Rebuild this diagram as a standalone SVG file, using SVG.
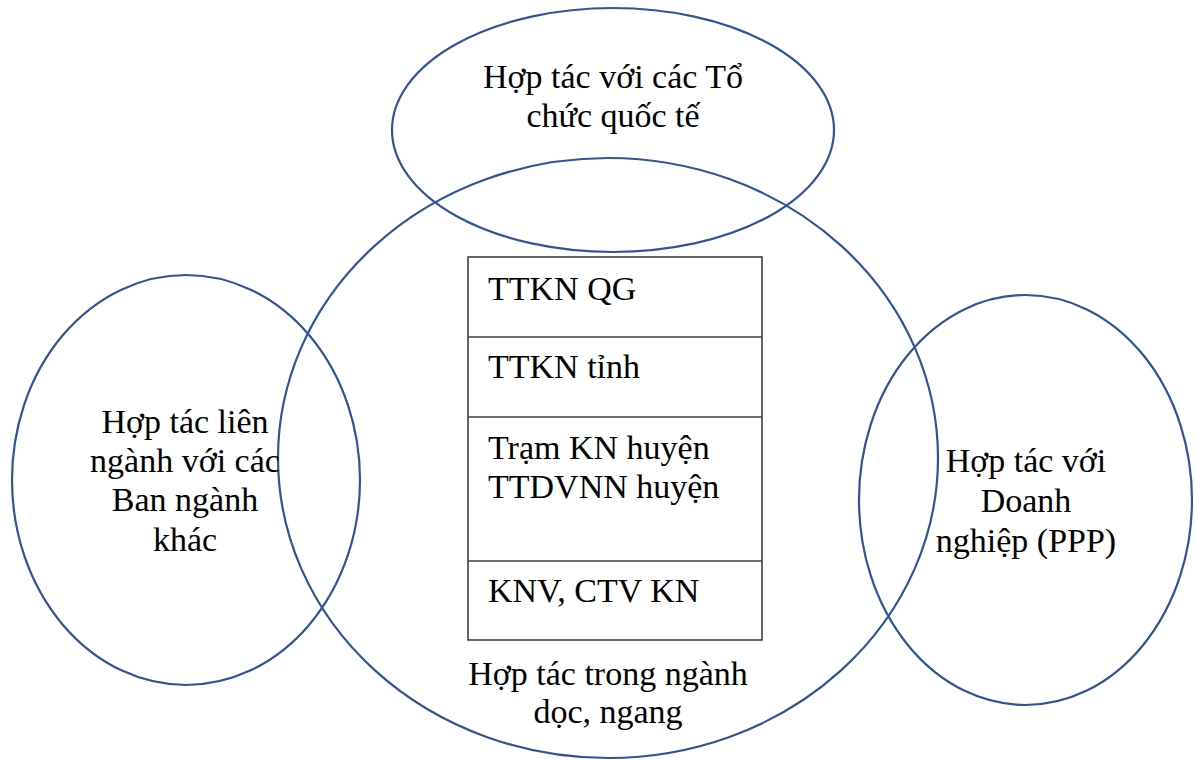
<svg xmlns="http://www.w3.org/2000/svg" width="1195" height="760" viewBox="0 0 1195 760">
<style>
.ell{fill:none;stroke:#2F5597;stroke-width:2.2}
.box{fill:none;stroke:#404040;stroke-width:1.6}
text{font-family:'Liberation Serif','Times New Roman',serif;font-size:34px;fill:#000}
.c{text-anchor:middle}
</style>
<rect width="1195" height="760" fill="#fff"/>
<g id="ngang-doc">
<ellipse class="ell" cx="608" cy="458" rx="330" ry="300"/>
<text class="c" x="608" y="685">Hợp tác trong ngành</text>
<text class="c" x="608" y="723">dọc, ngang</text>
</g>
<g id="quoc-te">
<ellipse class="ell" cx="613" cy="130" rx="221" ry="122"/>
<text class="c" x="613" y="88">Hợp tác với các Tổ</text>
<text class="c" x="613" y="127">chức quốc tế</text>
</g>
<g id="lien-nganh">
<ellipse class="ell" cx="186" cy="480" rx="174" ry="205"/>
<text class="c" x="185" y="433">Hợp tác liên</text>
<text class="c" x="185" y="472">ngành với các</text>
<text class="c" x="185" y="511">Ban ngành</text>
<text class="c" x="185" y="551">khác</text>
</g>
<g id="doanh-nghiep">
<ellipse class="ell" cx="1025.5" cy="500" rx="166.5" ry="205"/>
<text class="c" x="1026" y="472">Hợp tác với</text>
<text class="c" x="1026" y="512">Doanh</text>
<text class="c" x="1026" y="552">nghiệp (PPP)</text>
</g>
<g id="he-thong">
<rect class="box" x="468" y="257" width="294" height="383"/>
<line class="box" x1="468" y1="337" x2="762" y2="337"/>
<line class="box" x1="468" y1="417" x2="762" y2="417"/>
<line class="box" x1="468" y1="561" x2="762" y2="561"/>
<text x="488" y="300">TTKN QG</text>
<text x="488" y="378">TTKN tỉnh</text>
<text x="488" y="459">Trạm KN huyện</text>
<text x="488" y="498">TTDVNN huyện</text>
<text x="488" y="602">KNV, CTV KN</text>
</g>
</svg>
